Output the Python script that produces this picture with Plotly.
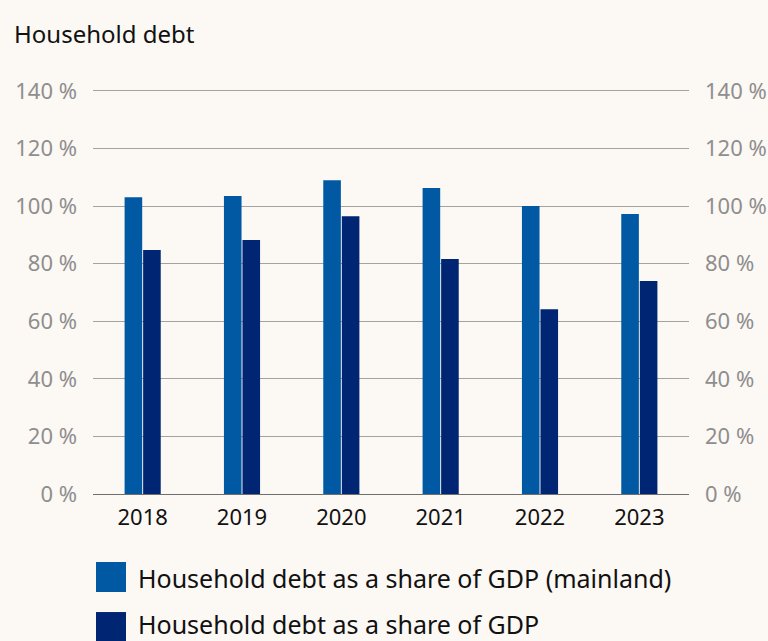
import plotly.graph_objects as go

# Household debt, per cent of GDP
years = ["2018", "2019", "2020", "2021", "2022", "2023"]
share_mainland = [103.1, 103.5, 109.0, 106.3, 100.0, 97.2]
share_total = [84.7, 88.2, 96.5, 81.6, 64.2, 74.0]

series_names = [
    "Household debt as a share of GDP (mainland)",
    "Household debt as a share of GDP",
]
tick_vals = [0, 20, 40, 60, 80, 100, 120, 140]
tick_text = [f"{v} %" for v in tick_vals]

LIGHT = "#0059a2"
DARK = "#002673"
BG = "#fcf8f4"
FONT = "Noto Sans"

Y_MAX = 141  # a little headroom so the 140 gridline is drawn
PLOT_TOP, PLOT_BOTTOM, PLOT_LEFT, PLOT_RIGHT = 91, 494, 93, 689
plot_w = PLOT_RIGHT - PLOT_LEFT
plot_h = (PLOT_BOTTOM - PLOT_TOP) * Y_MAX / 140

fig = go.Figure()
fig.add_trace(go.Bar(x=years, y=share_mainland, name=series_names[0],
                     marker=dict(color=LIGHT, line=dict(width=0))))
fig.add_trace(go.Bar(x=years, y=share_total, name=series_names[1],
                     marker=dict(color=DARK, line=dict(width=0))))
# transparent helper trace so the right-hand axis is drawn
fig.add_trace(go.Scatter(x=years, y=share_mainland, yaxis="y2", mode="markers",
                         marker=dict(opacity=0), showlegend=False, hoverinfo="skip"))

axis_common = dict(
    range=[0, Y_MAX], tickvals=tick_vals, ticktext=tick_text,
    tickfont=dict(family=FONT, size=22, color="#8e8e8e"),
    ticks="", ticklabelstandoff=15, automargin=False,
)

fig.update_layout(
    width=768, height=641,
    paper_bgcolor=BG, plot_bgcolor=BG,
    margin=dict(l=PLOT_LEFT, r=768 - PLOT_RIGHT, t=PLOT_BOTTOM - plot_h,
                b=641 - PLOT_BOTTOM, autoexpand=False),
    barmode="group", bargap=0.627, bargroupgap=0.05,
    showlegend=False,
    font=dict(family=FONT, color="#111111"),
    title=dict(text="Household debt", x=14 / 768, xref="container", xanchor="left",
               y=1 - 35 / 641, yref="container", yanchor="middle",
               font=dict(family=FONT, size=24, color="#111111")),
    xaxis=dict(tickfont=dict(family=FONT, size=22, color="#111111"),
               ticks="", ticklabelstandoff=8, showgrid=False, showline=False,
               automargin=False),
    yaxis=dict(**axis_common, showgrid=True, gridcolor="#a3a3a3", gridwidth=1,
               zeroline=True, zerolinecolor="#6f6f6f", zerolinewidth=1.3,
               showline=False),
    yaxis2=dict(**axis_common, overlaying="y", side="right", showgrid=False,
                zeroline=False, showline=False),
)


def px_to_paper_y(py):
    return (PLOT_BOTTOM - py) / plot_h


# legend drawn as squares with text beneath the plot: (square top, square bottom, text centre)
legend_rows = [(562, 592, 578, LIGHT), (612, 642, 624, DARK)]
for (sq_top, sq_bot, txt_mid, col), name in zip(legend_rows, series_names):
    fig.add_shape(type="rect", xref="paper", yref="paper",
                  x0=3 / plot_w, x1=33 / plot_w,
                  y0=px_to_paper_y(sq_bot), y1=px_to_paper_y(sq_top),
                  fillcolor=col, line=dict(width=0))
    fig.add_annotation(text=name, xref="paper", yref="paper",
                       x=43 / plot_w, y=px_to_paper_y(txt_mid), xanchor="left",
                       yanchor="middle", showarrow=False,
                       font=dict(family=FONT, size=25, color="#111111"))

fig.write_html("out.html")
